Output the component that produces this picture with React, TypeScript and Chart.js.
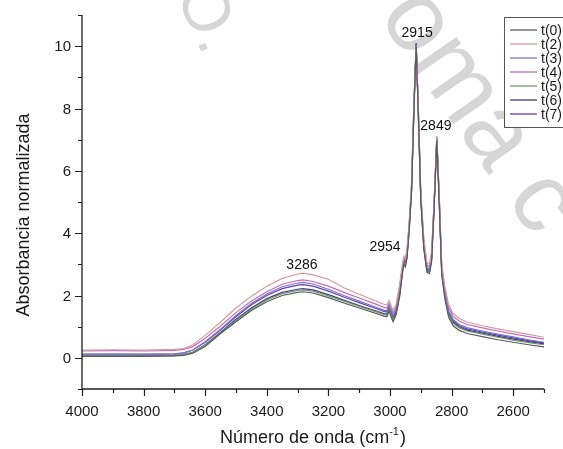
import React, { useEffect, useRef } from "react";
import { Chart, registerables } from "chart.js";
Chart.register(...registerables);

const wavenumbers = [4000, 3900, 3800, 3700, 3670, 3640, 3600, 3550, 3500, 3450, 3400, 3350, 3300, 3283, 3250, 3200, 3150, 3100, 3050, 3020, 3010, 3003, 2996, 2990, 2980, 2968, 2960, 2955, 2950, 2945, 2938, 2930, 2922, 2915, 2908, 2900, 2890, 2880, 2872, 2865, 2857, 2848, 2840, 2832, 2822, 2810, 2795, 2775, 2750, 2700, 2650, 2600, 2550, 2500];

const t0 = [0.05, 0.05, 0.05, 0.06, 0.08, 0.15, 0.36, 0.78, 1.16, 1.52, 1.8, 2.0, 2.1, 2.12, 2.08, 1.93, 1.76, 1.6, 1.44, 1.34, 1.32, 1.5, 1.3, 1.16, 1.38, 2.0, 2.68, 3.0, 2.92, 3.18, 4.02, 5.32, 8.02, 9.98, 7.8, 5.05, 3.48, 2.74, 2.7, 3.08, 4.72, 6.98, 4.92, 2.65, 1.9, 1.32, 1.03, 0.88, 0.78, 0.68, 0.58, 0.5, 0.42, 0.35];
const t2 = [0.25, 0.26, 0.25, 0.27, 0.3, 0.42, 0.72, 1.15, 1.6, 1.98, 2.3, 2.55, 2.69, 2.72, 2.66, 2.52, 2.25, 2.04, 1.84, 1.72, 1.7, 1.84, 1.66, 1.52, 1.72, 2.4, 3.0, 3.26, 3.2, 3.45, 4.3, 5.6, 8.3, 9.97, 8.0, 5.3, 3.8, 3.05, 3.0, 3.4, 5.0, 7.12, 5.2, 3.0, 2.3, 1.72, 1.42, 1.26, 1.15, 1.03, 0.93, 0.84, 0.75, 0.66];
const t3 = [0.1, 0.11, 0.1, 0.12, 0.15, 0.25, 0.52, 0.92, 1.36, 1.74, 2.05, 2.28, 2.4, 2.42, 2.37, 2.2, 2.0, 1.82, 1.64, 1.53, 1.51, 1.68, 1.5, 1.36, 1.56, 2.2, 2.85, 3.15, 3.1, 3.35, 4.2, 5.5, 8.2, 10.05, 7.95, 5.2, 3.65, 2.9, 2.85, 3.25, 4.9, 7.08, 5.1, 2.85, 2.12, 1.52, 1.23, 1.07, 0.97, 0.86, 0.76, 0.67, 0.58, 0.5];
const t4 = [0.22, 0.23, 0.22, 0.24, 0.27, 0.36, 0.63, 1.02, 1.45, 1.82, 2.12, 2.36, 2.48, 2.5, 2.45, 2.3, 2.1, 1.92, 1.74, 1.62, 1.6, 1.76, 1.58, 1.44, 1.64, 2.3, 2.92, 3.2, 3.15, 3.4, 4.25, 5.55, 8.25, 10.0, 8.0, 5.25, 3.72, 2.98, 2.92, 3.32, 4.95, 7.1, 5.15, 2.9, 2.2, 1.62, 1.33, 1.18, 1.07, 0.96, 0.86, 0.77, 0.68, 0.6];
const t5 = [0.08, 0.08, 0.08, 0.09, 0.11, 0.18, 0.4, 0.8, 1.2, 1.56, 1.86, 2.06, 2.16, 2.18, 2.14, 1.99, 1.82, 1.65, 1.49, 1.39, 1.37, 1.55, 1.37, 1.23, 1.43, 2.05, 2.72, 3.05, 2.98, 3.22, 4.08, 5.38, 8.08, 10.02, 7.82, 5.08, 3.52, 2.78, 2.74, 3.12, 4.78, 7.0, 4.98, 2.72, 1.99, 1.4, 1.11, 0.96, 0.86, 0.76, 0.66, 0.57, 0.49, 0.42];
const t6 = [0.06, 0.07, 0.06, 0.07, 0.1, 0.18, 0.42, 0.82, 1.24, 1.6, 1.9, 2.1, 2.2, 2.22, 2.18, 2.03, 1.85, 1.68, 1.52, 1.42, 1.4, 1.58, 1.4, 1.26, 1.46, 2.08, 2.75, 3.08, 3.0, 3.25, 4.1, 5.4, 8.1, 10.08, 7.85, 5.1, 3.55, 2.8, 2.76, 3.15, 4.8, 7.02, 5.0, 2.75, 2.02, 1.43, 1.14, 0.99, 0.89, 0.79, 0.69, 0.6, 0.52, 0.45];
const t7 = [0.12, 0.12, 0.12, 0.13, 0.16, 0.25, 0.5, 0.9, 1.32, 1.7, 2.0, 2.22, 2.33, 2.35, 2.3, 2.14, 1.95, 1.77, 1.6, 1.49, 1.47, 1.64, 1.46, 1.31, 1.52, 2.15, 2.8, 3.12, 3.05, 3.3, 4.15, 5.45, 8.15, 10.1, 7.9, 5.15, 3.6, 2.85, 2.8, 3.2, 4.85, 7.05, 5.05, 2.8, 2.06, 1.47, 1.18, 1.03, 0.93, 0.83, 0.73, 0.64, 0.55, 0.48];

const seriesLabels = ["t(0)", "t(2)", "t(3)", "t(4)", "t(5)", "t(6)", "t(7)"];
const seriesValues = [t0, t2, t3, t4, t5, t6, t7];
const seriesColors = ["#5a5a5a", "#d99a9a", "#7878cc", "#c468c4", "#6f9a6f", "#3c3c84", "#6a3cb0"];

const xMajorTicks = [4000, 3800, 3600, 3400, 3200, 3000, 2800, 2600];
const xMinorTicks = [3900, 3700, 3500, 3300, 3100, 2900, 2700, 2500];
const yMajorTicks = [0, 2, 4, 6, 8, 10];
const yMinorTicks = [-1, 1, 3, 5, 7, 9, 11];

const peakLabels = ["3286", "2954", "2915", "2849"];
const peakX = [3286, 3016, 2912, 2851];
const peakY = [2.98, 3.55, 10.42, 7.44];

const watermarkText = "oma c";
const watermarkTop = "O.";

const FONT = '"Liberation Sans", Arial, sans-serif';

export default function App() {
  const ref = useRef<HTMLCanvasElement>(null);
  useEffect(() => {
    document.body.style.margin = "0";
    document.body.style.overflow = "hidden";
    const canvas = ref.current!;
    const datasets = seriesValues.map((vals, i) => ({
      label: seriesLabels[i],
      data: wavenumbers.map((w, j) => ({ x: w, y: vals[j] })),
      borderColor: seriesColors[i],
      backgroundColor: seriesColors[i],
      borderWidth: 1.2,
      pointRadius: 0,
      fill: false,
      tension: 0,
    }));

    const watermark = {
      id: "watermark",
      beforeDatasetsDraw(chart: any) {
        const { ctx } = chart;
        ctx.save();
        ctx.fillStyle = "#d6d6d6";
        ctx.textBaseline = "middle";
        ctx.textAlign = "left";
        ctx.font = `100px ${FONT}`;
        ctx.save();
        ctx.translate(400, 0);
        ctx.rotate((55 * Math.PI) / 180);
        ctx.fillText(watermarkText, 0, 0);
        ctx.restore();
        ctx.font = `66px ${FONT}`;
        ctx.save();
        ctx.translate(192, -14);
        ctx.rotate((66 * Math.PI) / 180);
        ctx.fillText(watermarkTop, 0, 0);
        ctx.restore();
        ctx.restore();
      },
    };

    const decor = {
      id: "decor",
      afterDraw(chart: any) {
        const { ctx, chartArea: a, scales } = chart;
        const xs = scales.x;
        const ys = scales.y;
        ctx.save();
        ctx.strokeStyle = "#1e1e1e";
        ctx.lineWidth = 1.3;
        ctx.beginPath();
        ctx.moveTo(a.left, a.top);
        ctx.lineTo(a.left, a.bottom);
        ctx.lineTo(a.right, a.bottom);
        ctx.stroke();

        ctx.lineWidth = 1.2;
        ctx.beginPath();
        xMajorTicks.forEach((v) => {
          const px = Math.round(xs.getPixelForValue(v)) + 0.5;
          ctx.moveTo(px, a.bottom);
          ctx.lineTo(px, a.bottom + 7);
        });
        xMinorTicks.forEach((v) => {
          const px = Math.round(xs.getPixelForValue(v)) + 0.5;
          ctx.moveTo(px, a.bottom);
          ctx.lineTo(px, a.bottom + 4);
        });
        yMajorTicks.forEach((v) => {
          const py = Math.round(ys.getPixelForValue(v)) + 0.5;
          ctx.moveTo(a.left, py);
          ctx.lineTo(a.left - 7, py);
        });
        yMinorTicks.forEach((v) => {
          const py = Math.round(ys.getPixelForValue(v)) + 0.5;
          ctx.moveTo(a.left, py);
          ctx.lineTo(a.left - 4, py);
        });
        ctx.stroke();

        ctx.fillStyle = "#1a1a1a";
        ctx.font = `15px ${FONT}`;
        ctx.textAlign = "center";
        ctx.textBaseline = "middle";
        xMajorTicks.forEach((v) => {
          ctx.fillText(String(v), xs.getPixelForValue(v), a.bottom + 23);
        });
        ctx.textAlign = "right";
        yMajorTicks.forEach((v) => {
          ctx.fillText(String(v), a.left - 11, ys.getPixelForValue(v) + 1);
        });

        ctx.font = `18px ${FONT}`;
        ctx.textAlign = "left";
        ctx.textBaseline = "alphabetic";
        const part1 = "Número de onda (cm";
        const sup = "-1";
        const part2 = ")";
        const w1 = ctx.measureText(part1).width;
        ctx.font = `11px ${FONT}`;
        const ws = ctx.measureText(sup).width;
        ctx.font = `18px ${FONT}`;
        const w2 = ctx.measureText(part2).width;
        const total = w1 + ws + w2 + 1;
        const cx = (a.left + a.right) / 2;
        let sx = cx - total / 2;
        const by = 443;
        ctx.fillText(part1, sx, by);
        sx += w1;
        ctx.font = `11px ${FONT}`;
        ctx.fillText(sup, sx, by - 8);
        sx += ws + 1;
        ctx.font = `18px ${FONT}`;
        ctx.fillText(part2, sx, by);

        ctx.save();
        ctx.translate(24, 215);
        ctx.rotate(-Math.PI / 2);
        ctx.textAlign = "center";
        ctx.textBaseline = "middle";
        ctx.fillText("Absorbancia normalizada", 0, 0);
        ctx.restore();

        ctx.font = `14px ${FONT}`;
        ctx.textAlign = "center";
        ctx.textBaseline = "middle";
        ctx.fillStyle = "#111";
        peakLabels.forEach((t, i) => {
          ctx.fillText(t, xs.getPixelForValue(peakX[i]), ys.getPixelForValue(peakY[i]));
        });

        const lx = 504;
        const ly = 17;
        const rowH = 14;
        ctx.fillStyle = "#ffffff";
        ctx.fillRect(lx, ly, 80, 12 + rowH * seriesLabels.length);
        ctx.strokeStyle = "#555";
        ctx.lineWidth = 1;
        ctx.strokeRect(lx + 0.5, ly + 0.5, 80, 12 + rowH * seriesLabels.length);
        ctx.font = `14px ${FONT}`;
        ctx.textAlign = "left";
        ctx.textBaseline = "middle";
        seriesLabels.forEach((lab, i) => {
          const ry = ly + 13 + i * rowH;
          ctx.strokeStyle = seriesColors[i];
          ctx.lineWidth = 1.3;
          ctx.beginPath();
          ctx.moveTo(510, ry);
          ctx.lineTo(537, ry);
          ctx.stroke();
          ctx.fillStyle = "#1a1a1a";
          ctx.fillText(lab, 541, ry + 1);
        });
        ctx.restore();
      },
    };

    const chart = new Chart(canvas, {
      type: "line",
      data: { datasets },
      options: {
        responsive: false,
        animation: false,
        parsing: false,
        layout: { padding: { left: 82, right: 19, top: 15, bottom: 60 } },
        plugins: { legend: { display: false }, tooltip: { enabled: false } },
        scales: {
          x: { type: "linear", reverse: true, min: 2500, max: 4000, display: false },
          y: { type: "linear", min: -1, max: 11, display: false },
        },
      },
      plugins: [watermark, decor],
    } as any);
    return () => chart.destroy();
  }, []);
  return <canvas ref={ref} width={563} height={449} style={{ display: "block" }} />;
}
